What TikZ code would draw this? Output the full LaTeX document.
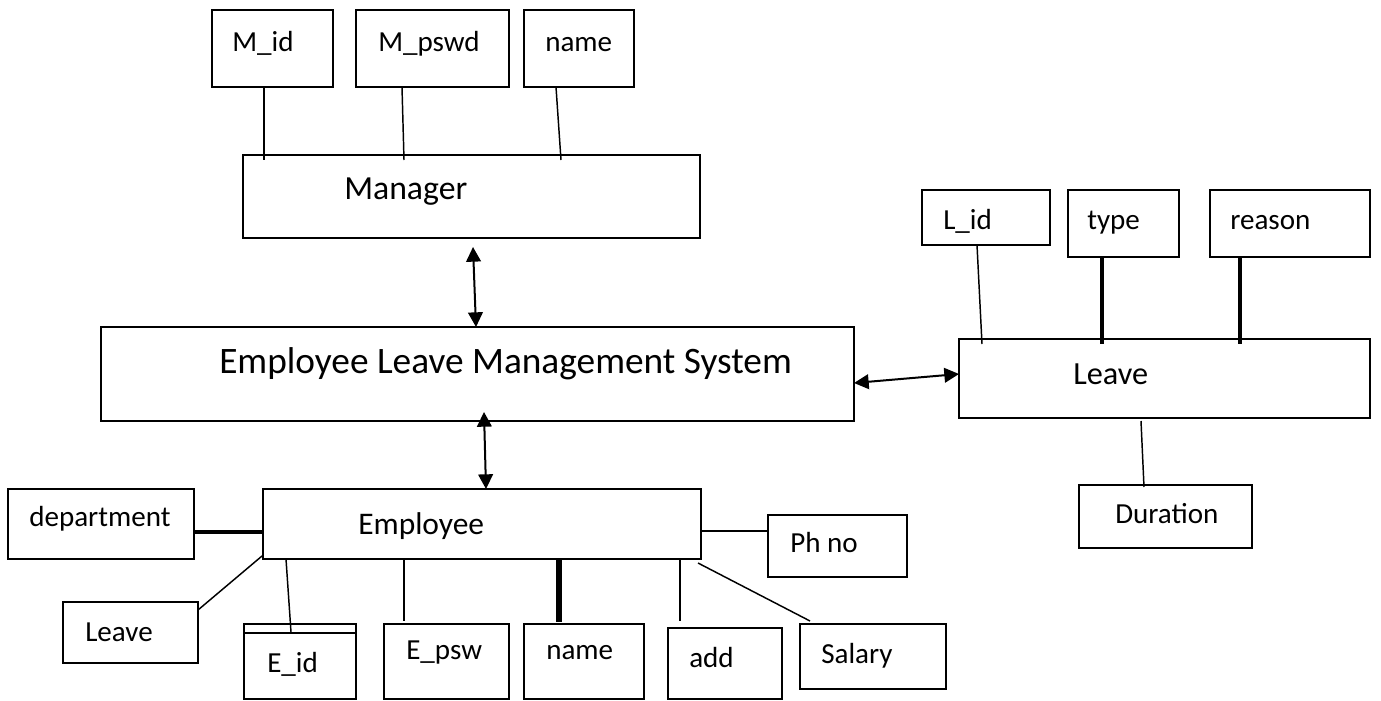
\documentclass[tikz,border=0pt]{standalone}
\usepackage{fontspec}
\setmainfont{Carlito}
\usetikzlibrary{fit,calc,arrows.meta}
\tikzset{
  box/.style={draw, line width=1.5pt, inner sep=0pt, outer sep=0pt, rectangle},
  lbl/.style={anchor=base west, inner sep=0pt, font=\fontsize{21.8}{26}\selectfont},
  conn/.style={line width=1.1pt},
  thickconn/.style={line width=3pt},
  heavyconn/.style={line width=5pt},
  dbl/.style={line width=1.5pt, {Triangle[length=11pt,width=11pt]}-{Triangle[length=11pt,width=11pt]}},
}
\begin{document}
\begin{tikzpicture}[x=0.75pt,y=-0.75pt]
\useasboundingbox (0,0) rectangle (1381,700);
% Manager and attributes
\node[box, fit={(212,10) (333,87)}] (mid) {};
\node[box, fit={(356,10) (509,87)}] (mpswd) {};
\node[box, fit={(524,10) (634,87)}] (mname) {};
\node[box, fit={(243,155) (700,238)}] (mgr) {};
\node[lbl] (tmid) at (232,51) {M\_id};
\node[lbl] (tmpswd) at (378,51) {M\_pswd};
\node[lbl] (tmname) at (545,51) {name};
\node[lbl, font=\fontsize{25.3}{30}\selectfont] (tmgr) at (344,199) {Manager};
% System
\node[box, fit={(101,327) (854,421)}] (elms) {};
\node[lbl, font=\fontsize{28}{33}\selectfont] (telms) at (219,373) {Employee Leave Management System};
% Leave entity
\node[box, fit={(922,190) (1050,245)}] (lid) {};
\node[box, fit={(1068,190) (1179,257)}] (ltype) {};
\node[box, fit={(1210,190) (1370,257)}] (lreason) {};
\node[box, fit={(959,339) (1370,418)}] (leave) {};
\node[box, fit={(1079,485) (1252,548)}] (ldur) {};
\node[lbl] (tlid) at (943,229) {L\_id};
\node[lbl] (tltype) at (1087,229) {type};
\node[lbl] (tlreason) at (1230,229) {reason};
\node[lbl, font=\fontsize{24.2}{29}\selectfont] (tleave) at (1073,384) {Leave};
\node[lbl] (tldur) at (1115,523) {Duration};
% Employee entity
\node[box, fit={(263,489) (701,559)}] (emp) {};
\node[box, fit={(8,489) (194,559)}] (dept) {};
\node[box, fit={(63,602) (198,663)}] (eleave) {};
\node[box, fit={(244,624) (356,698.5)}] (eid) {};
\node[box, fit={(384,624) (509,698.5)}] (epsw) {};
\node[box, fit={(524,624) (644,698.5)}] (ename) {};
\node[box, fit={(668,628) (782,698.5)}] (eadd) {};
\node[box, fit={(800,624) (946,689)}] (esal) {};
\node[box, fit={(768,515) (907,577)}] (ephone) {};
\node[lbl, font=\fontsize{23.6}{28}\selectfont] (temp) at (358,534) {Employee};
\node[lbl] (tdept) at (29,526) {department};
\node[lbl] (teleave) at (85,641) {Leave};
\node[lbl] (teid) at (267,672) {E\_id};
\node[lbl] (tepsw) at (406,659) {E\_psw};
\node[lbl] (tename) at (546,659) {name};
\node[lbl] (teadd) at (689,667) {add};
\node[lbl] (tesal) at (821,663) {Salary};
\node[lbl] (tephone) at (790,552) {Ph no};
\draw[line width=1.5pt] ($(eid.north west)+(0,9)$) -- ($(eid.north east)+(0,9)$);
% Manager connectors
\draw[conn] ($(mid.south)+(-8.5,0)$) -- ($(mgr.north west)+(21,5)$);
\draw[conn] ($(mpswd.south)+(-30.5,0)$) -- ($(mgr.north west)+(161,5)$);
\draw[conn] ($(mname.south)+(-23,0)$) -- ($(mgr.north west)+(318,5)$);
% Arrows
\draw[dbl] ($(mgr.south west)+(230,9)$) -- ($(elms.north west)+(375,0)$);
\draw[dbl] ($(elms.south west)+(383,-9)$) -- ($(emp.north west)+(223,0)$);
\draw[dbl] ($(elms.east)+(0,9)$) -- ($(leave.west)+(0,-4.5)$);
% Leave connectors
\draw[conn] ($(lid.south)+(-9,0)$) -- ($(leave.north west)+(23,5)$);
\draw[thickconn] ($(ltype.south)+(-21.5,0)$) -- ($(leave.north west)+(143,5)$);
\draw[thickconn] ($(lreason.south)+(-50,0)$) -- ($(leave.north west)+(281,5)$);
\draw[conn] ($(leave.south)+(-23.5,3)$) -- ($(ldur.north)+(-21.5,2)$);
% Employee connectors
\draw[thickconn] ($(dept.east)+(0,8)$) -- ($(emp.west)+(0,8)$);
\draw[conn] ($(eleave.north east)+(0,8)$) -- ($(emp.south west)+(-1,-3)$);
\draw[conn] ($(emp.south west)+(23,0)$) -- ($(eid.north west)+(47,8)$);
\draw[conn] ($(emp.south west)+(141,0)$) -- ($(epsw.north west)+(20,-3)$);
\draw[heavyconn] ($(emp.south west)+(296,0)$) -- ($(ename.north west)+(35,-2)$);
\draw[conn] ($(emp.south west)+(417,0)$) -- ($(eadd.north west)+(12,-7)$);
\draw[conn] ($(emp.south east)+(-3,4)$) -- ($(esal.north west)+(10,-3)$);
\draw[conn] ($(emp.east)+(0,7)$) -- ($(ephone.west)+(0,-15)$);
\end{tikzpicture}
\end{document}
